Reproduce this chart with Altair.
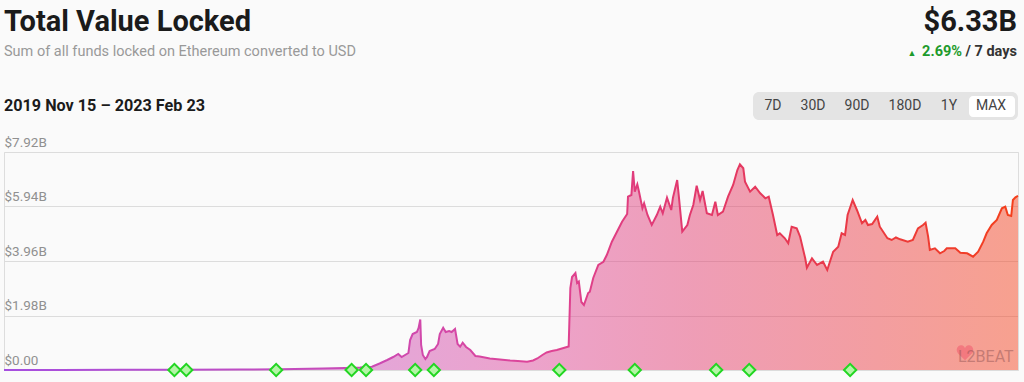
import altair as alt
import pandas as pd

# ---------------- data ----------------
start_date = "2019-11-15"
day_offsets = [0, 66, 137, 208, 278, 326, 376, 402, 420, 434, 443, 452, 459, 465, 469, 477, 479, 482,
               487, 489, 491, 492, 494, 497, 499, 502, 508, 512, 514, 518, 521, 525, 528, 532, 535, 538,
               541, 545, 550, 556, 561, 573, 585, 597, 606, 617, 624, 629, 635, 640, 646, 652, 658, 664,
               666, 668, 670, 674, 676, 678, 681, 684, 689, 691, 695, 701, 707, 711, 717, 723, 729, 735,
               736, 740, 742, 744, 747, 749, 753, 755, 759, 764, 770, 774, 777, 782, 787, 789, 794, 796,
               800, 806, 809, 813, 817, 821, 824, 829, 835, 839, 842, 848, 854, 860, 865, 868, 872, 874,
               880, 886, 892, 898, 902, 907, 912, 915, 921, 925, 929, 935, 939, 945, 947, 953, 959, 966,
               971, 978, 984, 988, 992, 995, 1001, 1006, 1012, 1016, 1019, 1024, 1030, 1033, 1042, 1047,
               1052, 1057, 1066, 1072, 1078, 1084, 1087, 1090, 1092, 1098, 1104, 1109, 1112, 1116, 1122,
               1128, 1136, 1143, 1149, 1155, 1159, 1165, 1171, 1177, 1181, 1184, 1188, 1190, 1193, 1196]
tvl_billion = [0.002, 0.003, 0.005, 0.008, 0.015, 0.03, 0.05, 0.07, 0.09, 0.12, 0.236, 0.363, 0.472,
               0.581, 0.472, 0.618, 1.09, 1.308, 1.38, 1.526, 1.835, 0.908, 0.545, 0.40, 0.472, 0.69,
               0.763, 0.945, 1.308, 1.537, 1.38, 1.417, 1.38, 1.49, 0.945, 0.846, 0.992, 0.836, 0.727,
               0.509, 0.49, 0.418, 0.381, 0.345, 0.327, 0.302, 0.345, 0.418, 0.545, 0.636, 0.69, 0.727,
               0.781, 0.836, 0.854, 2.979, 3.379, 3.524, 3.161, 3.215, 2.47, 2.361, 2.797, 2.845, 3.342,
               3.815, 3.934, 4.178, 4.661, 5.024, 5.388, 5.667, 6.296, 6.358, 7.23, 6.478, 6.747, 6.478,
               5.875, 6.056, 5.631, 5.268, 5.631, 5.933, 5.693, 6.26, 5.813, 6.26, 6.903, 6.296, 5.024,
               5.268, 5.631, 5.994, 6.696, 6.176, 6.503, 5.693, 5.631, 6.114, 5.631, 5.751, 6.296, 6.721,
               7.266, 7.473, 7.328, 6.841, 6.478, 6.659, 6.42, 6.238, 6.296, 5.631, 4.905, 4.966, 4.785,
               4.603, 5.206, 5.148, 4.843, 4.058, 3.717, 4.058, 3.815, 3.934, 3.633, 4.298, 4.479, 4.966,
               4.905, 5.631, 6.176, 5.813, 5.33, 5.45, 5.268, 5.304, 5.569, 5.206, 4.785, 4.723, 4.814,
               4.748, 4.661, 4.723, 5.148, 5.268, 5.351, 4.843, 4.36, 4.421, 4.24, 4.323, 4.421, 4.421,
               4.421, 4.262, 4.24, 4.116, 4.298, 4.661, 4.966, 5.268, 5.45, 5.875, 5.933, 5.631, 5.595,
               6.176, 6.274, 6.33]
marker_days = [201, 215, 321, 410, 427, 485, 507, 655, 744, 840, 879, 998]
tick_values = [0, 1.98, 3.96, 5.94, 7.92]
tick_labels = ["$0.00", "$1.98B", "$3.96B", "$5.94B", "$7.92B"]
range_buttons = ["7D", "30D", "90D", "180D", "1Y", "MAX"]
button_centers = [769, 809, 853, 901, 945, 987]

base = pd.Timestamp(start_date)
df = pd.DataFrame({
    "date": (base + pd.to_timedelta(day_offsets, unit="D")).strftime("%Y-%m-%d"),
    "tvl": tvl_billion,
})
mk = pd.DataFrame({
    "date": (base + pd.to_timedelta(marker_days, unit="D")).strftime("%Y-%m-%d"),
    "tvl": [0.0] * len(marker_days),
})

FONT = "Roboto"
stops = [("#a64fe0", 0.0), ("#c84bb8", 0.33), ("#dd4499", 0.52), ("#e2386c", 0.68),
         ("#ea3944", 0.84), ("#f43f1a", 1.0)]
line_grad = alt.LinearGradient(gradient="linear", x1=0, x2=1, y1=0, y2=0,
                               stops=[alt.GradientStop(color=c, offset=o) for c, o in stops])
fill_grad = alt.LinearGradient(gradient="linear", x1=0, x2=1, y1=0, y2=0,
                               stops=[alt.GradientStop(color=c, offset=o) for c, o in stops])

label_expr = "[" + ",".join("'%s'" % s for s in tick_labels) + "][indexof([" + \
    ",".join(str(v) for v in tick_values) + "], datum.value)]"

x_enc = alt.X("date:T", axis=None, scale=alt.Scale(nice=False, padding=0))
y_enc = alt.Y("tvl:Q", title=None,
              scale=alt.Scale(domain=[0, 7.92], nice=False, zero=True),
              axis=alt.Axis(values=tick_values, labelExpr=label_expr, grid=True,
                            gridColor="#dcdcdc", gridWidth=1.2, domain=False, ticks=False,
                            tickSize=0, labelAlign="left", labelBaseline="bottom",
                            labelPadding=0, labelOffset=-3, labelColor="#909090",
                            labelFontSize=13.5, labelFont=FONT, labelBound=False,
                            labelFlush=False, labelOverlap=False))

area = alt.Chart(df).mark_area(fill=fill_grad, fillOpacity=0.48, interpolate="linear").encode(
    x=x_enc, y=y_enc)
line = alt.Chart(df).mark_line(stroke=line_grad, strokeWidth=2, interpolate="linear").encode(
    x="date:T", y="tvl:Q")
markers = alt.Chart(mk).mark_point(shape="diamond", filled=True, fill="#b3f5a6", stroke="#22d622",
                                   strokeWidth=2, size=150, opacity=1).encode(
    x="date:T", y="tvl:Q")

one = alt.Data(values=[{"a": 1}])


def txt(s, x, y, size, color, weight="normal", align="left", baseline="alphabetic", opacity=1):
    return alt.Chart(one).mark_text(text=s, fontSize=size, color=color, fontWeight=weight,
                                    align=align, baseline=baseline, font=FONT,
                                    opacity=opacity).encode(x=alt.value(x), y=alt.value(y))


def box(x1, x2, y1, y2, fill, r):
    return alt.Chart(one).mark_rect(fill=fill, cornerRadius=r).encode(
        x=alt.value(x1), x2=alt.value(x2), y=alt.value(y1), y2=alt.value(y2))


heart_path = ("M0,0.9 L-0.85,0.05 C-1.25,-0.4 -0.9,-1.0 -0.45,-0.95 C-0.2,-0.92 -0.05,-0.75 0,-0.6 "
              "C0.05,-0.75 0.2,-0.92 0.45,-0.95 C0.9,-1.0 1.25,-0.4 0.85,0.05 Z")
heart = alt.Chart(one).mark_point(shape=heart_path, filled=True, fill="#f05a6e", strokeWidth=0,
                                  size=260, opacity=0.55).encode(
    x=alt.value(961), y=alt.value(201))

layers = [area, line, markers,
          txt("Total Value Locked", 0, -121, 29, "#1b1b1b", "bold"),
          txt("Sum of all funds locked on Ethereum converted to USD", 0, -96, 14.5, "#999999"),
          txt("2019 Nov 15 \u2013 2023 Feb 23", 0, -41, 16.2, "#1b1b1b", "bold"),
          txt("$6.33B", 1013, -121, 29, "#1b1b1b", "bold", align="right"),
          txt("/ 7 days", 1013, -96, 14.5, "#333333", "bold", align="right"),
          txt("2.69%", 958, -96, 14.5, "#1e9a2c", "bold", align="right"),
          txt("\u25B2", 908, -99, 9, "#1e9a2c", align="center", baseline="middle"),
          box(749, 1014, -60, -32, "#e4e4e4", 6),
          box(965, 1011, -56, -35, "#ffffff", 4),
          heart,
          txt("L2BEAT", 954, 205, 16, "#8a5050", align="left", baseline="middle", opacity=0.45),
          ]
for lab, cx in zip(range_buttons, button_centers):
    layers.append(txt(lab, cx, -46, 14, "#444444", align="center", baseline="middle"))

chart = alt.layer(*layers).properties(
    width=1014, height=218,
    autosize=alt.AutoSizeParams(type="none"),
    padding={"left": 4, "top": 152, "right": 6, "bottom": 12},
    background="#fafafa",
).configure_view(stroke=None).configure(font=FONT)

chart.save("out.html", embed_options={"renderer": "svg", "actions": False})
